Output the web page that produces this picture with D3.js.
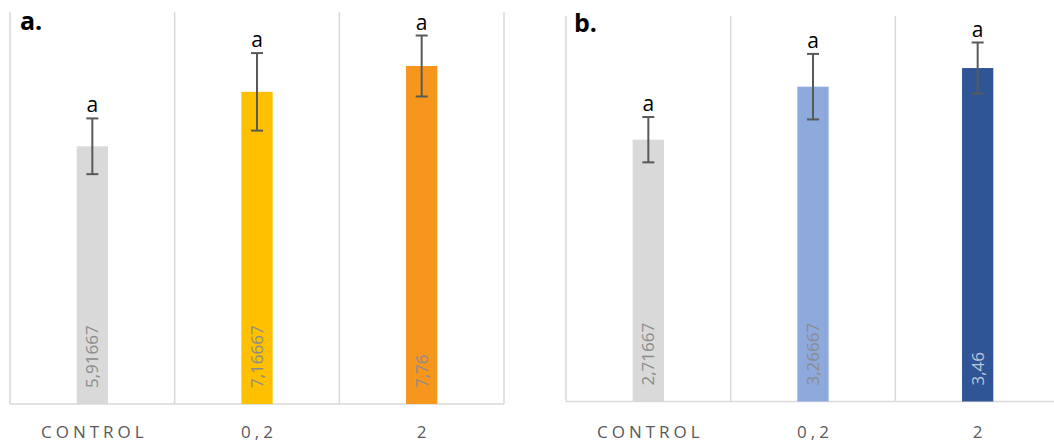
<!DOCTYPE html>
<html>
<head>
<meta charset="utf-8">
<script src="https://cdn.jsdelivr.net/npm/d3@7"></script>
<style>
  html, body { margin: 0; padding: 0; background: #fff; }
  svg { display: block; }
</style>
</head>
<body>
<svg id="chart" width="1054" height="446"></svg>
<script>
// Treatment groups shared by both panels
const categories = ["CONTROL", "0,2", "2"];

// Panel a: means, error half-widths and significance letters
const valuesA = [5.91667, 7.16667, 7.76];
const errorsA = [0.64, 0.89, 0.70];
const lettersA = ["a", "a", "a"];
const colorsA = ["#D9D9D9", "#FFC000", "#F7961C"];

// Panel b: means, error half-widths and significance letters
const valuesB = [2.71667, 3.26667, 3.46];
const errorsB = [0.235, 0.34, 0.265];
const lettersB = ["a", "a", "a"];
const colorsB = ["#D9D9D9", "#8EA9DB", "#2F5597"];

const svg = d3.select("#chart");

function drawPanel(cfg) {
  const g = svg.append("g");
  const x = d3.scaleBand().domain(categories).range([cfg.left, cfg.right]).padding(0);
  const y = d3.scaleLinear().domain([0, cfg.yMax]).range([cfg.bottom, cfg.top]);
  const barW = x.bandwidth() * 0.19;
  const rows = categories.map((c, i) => ({
    cat: c, v: cfg.values[i], e: cfg.errors[i], letter: cfg.letters[i],
    color: cfg.colors[i], labelColor: cfg.labelColors[i]
  }));

  // category frame: vertical separators and baseline
  const edges = categories.map(c => x(c)).concat([x(categories[categories.length - 1]) + x.bandwidth()]);
  g.selectAll("line.sep").data(edges).join("line")
    .attr("x1", d => d).attr("x2", d => d)
    .attr("y1", cfg.top).attr("y2", cfg.bottom)
    .attr("stroke", "#D9D9D9").attr("stroke-width", 1.5);
  g.append("line")
    .attr("x1", cfg.left).attr("x2", cfg.right)
    .attr("y1", cfg.bottom).attr("y2", cfg.bottom)
    .attr("stroke", "#D9D9D9").attr("stroke-width", 1.5);

  // bars
  g.selectAll("rect.bar").data(rows).join("rect")
    .attr("x", d => x(d.cat) + x.bandwidth() / 2 - barW / 2)
    .attr("width", barW)
    .attr("y", d => y(d.v))
    .attr("height", d => y(0) - y(d.v))
    .attr("fill", d => d.color);

  // value labels, rotated inside the bars
  g.selectAll("text.val").data(rows).join("text")
    .attr("transform", d => `translate(${x(d.cat) + x.bandwidth() / 2 + 6},${cfg.bottom - 16}) rotate(-90)`)
    .attr("text-anchor", "start")
    .style("font-family", "'Open Sans', sans-serif")
    .style("font-size", "17px")
    .attr("fill", d => d.labelColor)
    .text(d => String(d.v).replace(".", ","));

  // error bars
  const eb = g.selectAll("g.err").data(rows).join("g")
    .attr("transform", d => `translate(${x(d.cat) + x.bandwidth() / 2},0)`);
  eb.append("line")
    .attr("y1", d => y(d.v + d.e)).attr("y2", d => y(d.v - d.e))
    .attr("stroke", "#595959").attr("stroke-width", 2);
  eb.append("line")
    .attr("x1", -6).attr("x2", 6)
    .attr("y1", d => y(d.v + d.e)).attr("y2", d => y(d.v + d.e))
    .attr("stroke", "#595959").attr("stroke-width", 2);
  eb.append("line")
    .attr("x1", -6).attr("x2", 6)
    .attr("y1", d => y(d.v - d.e)).attr("y2", d => y(d.v - d.e))
    .attr("stroke", "#595959").attr("stroke-width", 2);

  // significance letters
  g.selectAll("text.letter").data(rows).join("text")
    .attr("x", d => x(d.cat) + x.bandwidth() / 2)
    .attr("y", d => y(d.v + d.e) - 6)
    .attr("text-anchor", "middle")
    .style("font-family", "'Open Sans', sans-serif")
    .style("font-size", "21px")
    .attr("fill", "#000")
    .text(d => d.letter);

  // category axis labels
  g.selectAll("text.cat").data(categories).join("text")
    .attr("x", d => x(d) + x.bandwidth() / 2 + 2)
    .attr("y", 438)
    .attr("text-anchor", "middle")
    .style("font-family", "'Open Sans', sans-serif")
    .style("font-size", "17px")
    .style("letter-spacing", "4px")
    .attr("fill", "#595959")
    .text(d => d);

  // panel tag
  g.append("text")
    .attr("x", cfg.tagX).attr("y", cfg.tagY)
    .style("font-family", "'Open Sans', sans-serif")
    .style("font-size", "25px")
    .style("font-weight", "bold")
    .attr("fill", "#000")
    .text(cfg.tag);
}

drawPanel({
  tag: "a.", tagX: 20, tagY: 29.5,
  left: 10, right: 504, top: 12, bottom: 404, yMax: 9,
  values: valuesA, errors: errorsA, letters: lettersA, colors: colorsA,
  labelColors: ["#8C8C8C", "#8C8C8C", "#8C8C8C"]
});

drawPanel({
  tag: "b.", tagX: 574, tagY: 31.5,
  left: 566, right: 1060, top: 16, bottom: 401.5, yMax: 4,
  values: valuesB, errors: errorsB, letters: lettersB, colors: colorsB,
  labelColors: ["#8C8C8C", "#8C8C8C", "#BCC6DA"]
});
</script>
</body>
</html>
